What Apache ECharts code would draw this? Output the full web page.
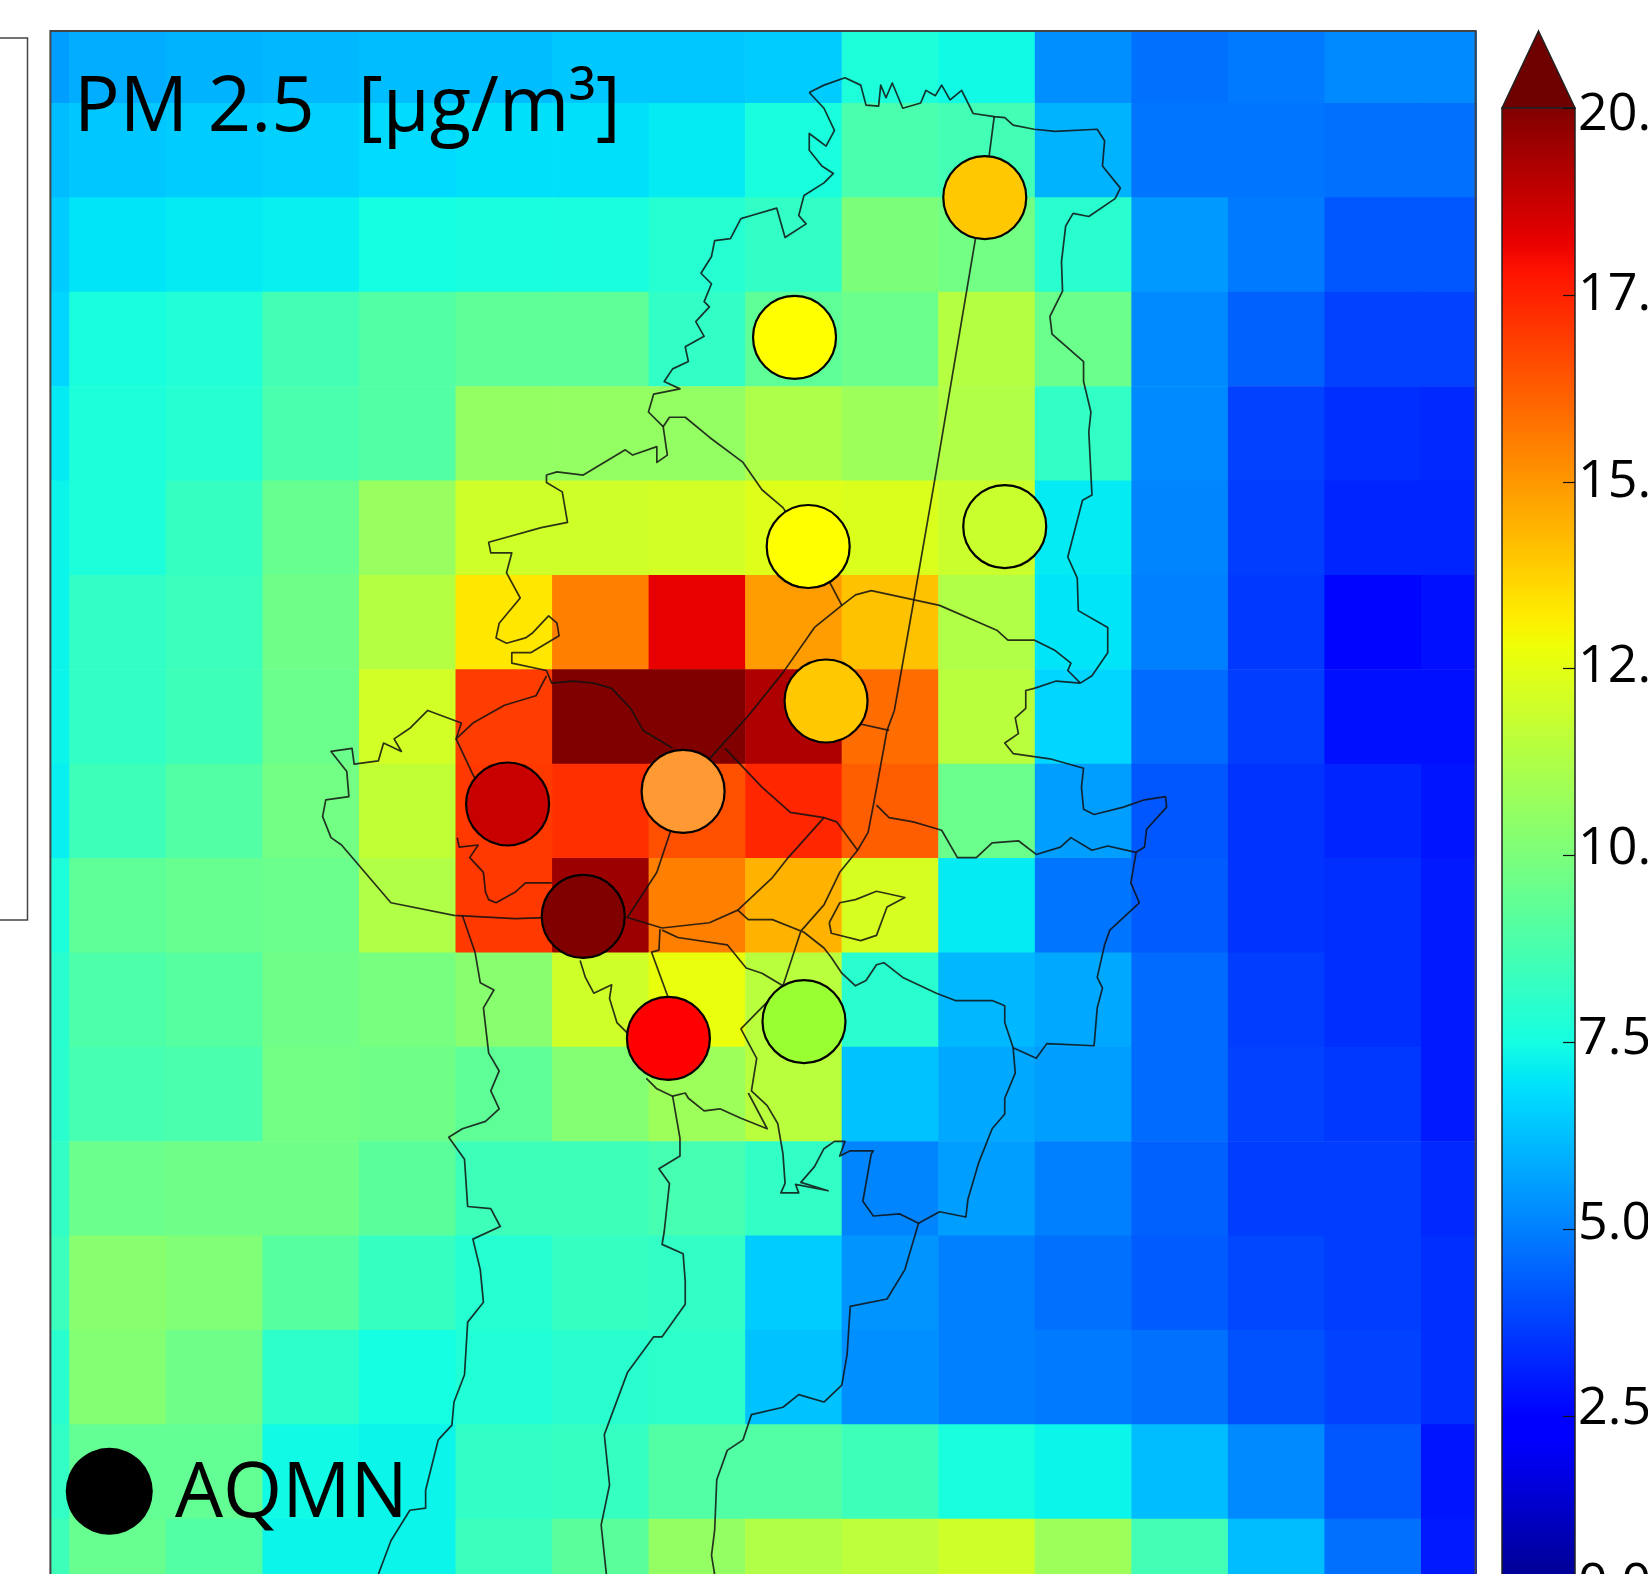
<!DOCTYPE html>
<html><head><meta charset="utf-8">
<style>html,body{margin:0;padding:0;background:#fff}#c{width:1648px;height:1574px}</style>
<script src="https://cdn.jsdelivr.net/npm/echarts@6/dist/echarts.min.js"></script>
</head><body><div id="c"></div>
<script>
// PM 2.5 per model cell, top row first, west to east
const row00=[5.6,5.9,6.0,6.1,6.2,6.2,6.4,6.4,6.5,7.7,7.4,5.3,4.7,4.9,5.2,5.2];
const row01=[6.2,6.4,6.5,6.6,6.8,6.9,6.9,7.1,7.6,8.8,8.6,6.0,4.8,4.8,4.7,4.7];
const row02=[6.5,7.0,7.1,7.2,7.5,7.6,7.6,7.9,8.2,10.0,9.8,8.0,5.5,4.9,4.2,4.2];
const row03=[6.7,7.6,7.8,8.6,9.0,9.3,9.3,8.2,9.3,9.6,11.4,9.6,5.2,4.4,3.8,3.8];
const row04=[7.1,7.7,7.9,8.8,9.0,10.6,10.6,10.6,11.2,10.8,11.3,8.2,5.2,3.8,3.4,3.3];
const row05=[7.3,7.7,8.3,9.5,10.7,12.0,12.0,12.1,12.4,12.3,11.9,7.1,5.1,3.7,3.2,3.2];
const row06=[7.3,8.2,8.4,9.7,11.4,13.3,15.5,18.2,14.9,14.1,11.3,7.0,5.0,3.6,2.6,2.8];
const row07=[7.3,8.2,8.5,9.6,12.1,16.9,20.0,20.0,19.2,15.9,11.5,6.7,4.6,3.7,2.8,2.8];
const row08=[7.2,8.5,9.0,9.8,11.7,17.0,17.2,16.5,17.4,16.2,9.6,5.6,4.2,3.5,3.2,2.9];
const row09=[7.7,9.3,9.5,9.6,11.3,17.0,19.5,15.5,14.4,12.2,7.1,4.8,4.3,3.5,3.4,3.0];
const row10=[8.0,8.9,9.1,9.7,9.9,10.3,12.0,12.7,11.5,8.0,6.1,5.8,4.6,3.7,3.4,3.0];
const row11=[8.0,8.7,8.8,9.8,9.7,9.3,10.2,10.8,11.5,6.3,5.8,5.6,4.6,3.8,3.6,3.0];
const row12=[8.2,9.6,9.7,9.7,9.2,8.5,8.5,8.7,8.2,5.1,5.6,5.0,4.4,3.7,3.7,3.3];
const row13=[8.4,10.3,10.1,9.1,8.3,7.9,8.3,8.2,6.5,5.4,5.0,4.7,4.3,3.9,3.7,3.4];
const row14=[8.0,10.2,9.7,8.1,7.5,7.8,8.0,8.1,6.3,5.3,5.0,4.9,4.7,4.1,3.8,3.4];
const row15=[8.2,9.4,9.4,7.4,7.3,8.2,8.3,9.0,9.0,8.5,7.6,7.3,6.2,5.2,4.2,2.9];
const row16=[8.5,9.5,9.0,7.3,7.3,8.4,9.2,10.6,11.3,11.6,12.0,10.8,8.6,6.2,4.7,3.0];
const rows=[row00,row01,row02,row03,row04,row05,row06,row07,row08,row09,row10,row11,row12,row13,row14,row15,row16];

// Monitoring stations (AQMN), in map units
const stationX=[937,756,769,956,786,483,650,555,636,765];
const stationY=[188,321,520,501,667,765,753,872,988,972];
const stationColors=['#ffc800','#ffff00','#ffff00','#c8ff2d','#ffc800','#c80000','#ff9933','#800000','#ff0000','#99ff33'];
const legendDot=[104,1419];

// Colour bar
const barTickValues=[0,2.5,5,7.5,10,12.5,15,17.5,20];
const barLabelNudge=[-18,-7,-5,-3,-6,-1,0,0,7];
const arrowTip=21.03;

// Map outlines, in map units
const coastNorthWest=[[770,88],[784,103],[794,124],[786,139],[770,127],[770,143],[782,158],[793,165],[784,174],[765,186],[760,205],[767,213],[747,226],[739,198],[715,205],[705,208],[695,227],[680,229],[677,244],[667,260],[677,270],[670,287],[675,292],[662,306],[670,320],[652,330],[655,344],[640,351],[632,363],[647,370],[622,375],[617,392],[631,406],[635,433],[625,440],[625,425],[602,433],[595,428],[555,452],[530,449],[520,452],[520,459],[535,468],[540,497],[515,502],[465,516],[467,526],[487,526],[482,545],[495,569],[475,593],[472,607],[482,612],[500,607],[507,602],[522,586],[530,593],[532,605],[505,621],[487,621],[487,631],[520,638],[525,650],[545,648],[565,650],[582,655],[600,674],[612,695],[640,712]];
const coastNorthEast=[[770,88],[784,81],[804,74],[819,81],[824,100],[836,101],[838,81],[843,93],[849,79],[859,103],[876,98],[881,86],[890,91],[896,81],[904,95],[915,86],[926,108],[946,111],[956,112],[964,119],[984,123],[1004,125],[1044,123],[1051,134],[1049,158],[1066,179],[1061,189],[1036,206],[1021,203],[1014,215],[1010,249],[1011,277],[999,301],[1001,318],[1031,344],[1031,363],[1038,392],[1036,411],[1039,471],[1030,476],[1016,530],[1025,550],[1026,581],[1054,597],[1054,621],[1039,643],[1028,650]];
const ridgeNorth=[[631,406],[637,397],[652,397],[675,416],[707,440],[725,466],[745,483],[769,520],[791,557],[801,576]];
const provinceMiddle=[[675,722],[712,681],[745,640],[775,597],[801,576],[814,566],[829,562],[894,576],[949,600],[959,609],[984,609],[1004,619],[1019,631],[1016,638],[1028,650]];
const provinceEast=[[1028,650],[1005,648],[984,655],[976,657],[976,674],[966,683],[969,698],[956,707],[964,717],[999,722],[1031,731],[1029,749],[1031,770],[1041,775],[1069,768],[1089,761],[1109,758],[1110,768],[1091,789],[1089,806],[1081,811],[1054,805],[1039,809],[1019,797],[1009,806],[986,813],[969,800],[944,802],[929,816],[911,816],[896,790],[869,782],[846,778],[834,766]];
const diagonal=[[946,111],[936,188],[928,228],[889,459],[869,574],[851,676],[844,695],[834,750],[831,766],[826,792],[816,809],[799,830],[784,861],[762,886],[745,938],[705,979],[720,1007],[715,1038],[730,1052],[740,1069],[745,1098],[747,1126],[743,1135],[760,1135],[757,1127],[788,1133],[762,1125],[775,1110],[784,1093],[794,1086],[804,1086],[799,1100],[809,1095],[831,1095],[829,1098],[821,1143],[831,1157],[856,1155],[874,1164],[894,1153],[919,1158],[921,1141],[931,1107],[944,1074],[956,1060],[956,1045],[966,1021],[964,997],[956,973],[956,957],[944,952],[909,952],[891,945],[859,930],[841,916],[834,918],[824,933],[814,938],[801,926],[791,911],[784,902],[765,887],[735,875],[712,875],[702,866]];
const spurNorthEast=[[846,695],[810,687]];
const provinceSouthEast=[[964,997],[986,1007],[996,993],[1041,995],[1044,959],[1049,940],[1044,930],[1051,899],[1056,885],[1084,859],[1076,840],[1081,811]];
const valleyEast=[[874,1164],[861,1208],[844,1236],[809,1243],[806,1289],[801,1318],[784,1334],[760,1327],[745,1339],[715,1346],[707,1370],[692,1380],[682,1408],[680,1456],[677,1480],[680,1498],[678,1530]];
const lakeLoop=[[789,878],[799,859],[814,856],[834,848],[861,854],[844,863],[834,890],[819,895],[791,888],[789,878]];
const westCoast=[[520,643],[510,662],[480,671],[450,688],[434,703],[439,688],[407,676],[390,693],[375,703],[382,715],[365,707],[360,724],[337,727],[335,712],[315,715],[330,734],[332,758],[310,761],[307,777],[315,797],[325,804],[372,859],[432,871],[490,874],[555,872]];
const westLink=[[434,703],[450,737],[465,765]];
const bayCoast=[[435,797],[437,806],[455,804],[447,816],[460,830],[462,849],[465,856],[472,859],[490,849],[500,840],[525,840]];
const valleyWest=[[440,871],[452,906],[457,935],[470,942],[460,959],[465,1002],[475,1019],[467,1038],[475,1055],[462,1067],[440,1074],[427,1082],[442,1103],[445,1148],[467,1150],[476,1167],[450,1179],[457,1208],[460,1239],[445,1258],[442,1308],[432,1334],[430,1356],[417,1370],[405,1418],[405,1435],[390,1437],[372,1466],[360,1498],[345,1530]];
const cityArc=[[650,753],[637,794],[625,830],[597,873],[630,883],[675,878],[702,866],[735,835],[750,816],[784,778],[796,782],[816,809]];
const cityInner=[[690,712],[725,749],[752,773],[784,778]];
const cityStem=[[628,884],[627,904],[620,906],[635,947],[636,988]];
const citySouth=[[630,885],[645,892],[692,899],[710,921],[725,926],[745,938]];
const coastSouth=[[552,914],[557,930],[565,945],[582,937],[580,950],[587,973],[597,983],[636,988]];
const gulfSouth=[[615,1026],[625,1036],[640,1043],[652,1040],[655,1045],[670,1057],[685,1055],[705,1064],[730,1074],[712,1040]];
const valleyMiddle=[[640,1043],[647,1083],[647,1100],[627,1112],[637,1126],[632,1172],[630,1184],[650,1193],[652,1219],[652,1241],[630,1272],[622,1272],[597,1306],[575,1365],[580,1413],[572,1451],[577,1498],[580,1530]];
const outlines=[coastNorthWest,coastNorthEast,ridgeNorth,provinceMiddle,provinceEast,diagonal,spurNorthEast,provinceSouthEast,valleyEast,lakeLoop,westCoast,westLink,bayCoast,valleyWest,cityArc,cityInner,cityStem,citySouth,coastSouth,gulfSouth,valleyMiddle];

// Map extent and cell layout (map units)
const mapX=[48,1404], mapY=[29.5,1530];
const colStart=66, colW=91.86, rowStart=98, rowH=89.8;

function lerp(t,pts){for(let i=1;i<pts.length;i++){if(t<=pts[i][0]){const a=pts[i-1],b=pts[i];return a[1]+(b[1]-a[1])*(t-a[0])/(b[0]-a[0]);}}return pts[pts.length-1][1];}
function jet(v){const t=Math.max(0,Math.min(1,v/20));
 const r=lerp(t,[[0,0],[.35,0],[.66,1],[.89,1],[1,.5]]),g=lerp(t,[[0,0],[.125,0],[.375,1],[.64,1],[.91,0],[1,0]]),b=lerp(t,[[0,.5],[.11,1],[.34,1],[.65,0],[1,0]]);
 return 'rgb('+Math.round(r*255)+','+Math.round(g*255)+','+Math.round(b*255)+')';}

const cells=[];rows.forEach((r,j)=>r.forEach((v,i)=>cells.push([i,j,v])));
const stops=[0,.11,.125,.34,.35,.375,.5,.64,.65,.66,.75,.89,.91,1];
const barStops=stops.map(t=>({offset:1-t,color:jet(t*20)})).reverse();
const titleFont={fontFamily:'Open Sans',fontSize:76,fontWeight:'normal',color:'#000'};
const labelFont={fontFamily:'Open Sans',fontSize:52,color:'#000'};
const richLabels={};
barTickValues.forEach((v,i)=>{const n=barLabelNudge[i];
 richLabels['t'+i]={...labelFont,padding:n>0?[2*n,0,0,0]:[0,0,-2*n,0]};});

const chart=echarts.init(document.getElementById('c'),null,{renderer:'canvas'});
chart.setOption({
 animation:false,backgroundColor:'#fff',
 title:[
  {text:'PM 2.5',left:74,top:71,padding:0,textStyle:titleFont},
  {text:'[µg/m³]',left:358,top:71,padding:0,textStyle:titleFont},
  {text:'AQMN',left:175,top:1457,padding:0,textStyle:titleFont}
 ],
 grid:[
  {left:50.4,top:31,width:1425.2,height:1577,show:true,borderColor:'#444',borderWidth:2,backgroundColor:'transparent',outerBoundsMode:'none',z:5},
  {left:1502,top:108,width:73,height:1495,outerBoundsMode:'none'},
  {left:-100,top:38,width:127.5,height:882,show:true,borderColor:'#444',borderWidth:1.5,outerBoundsMode:'none'}
 ],
 xAxis:[
  {gridIndex:0,type:'value',min:mapX[0],max:mapX[1],show:false},
  {gridIndex:1,type:'value',min:0,max:1,show:false},
  {gridIndex:2,type:'value',min:0,max:1,show:false}
 ],
 yAxis:[
  {gridIndex:0,type:'value',min:mapY[0],max:mapY[1],inverse:true,show:false},
  {gridIndex:1,type:'value',min:0,max:20,interval:2.5,position:'right',
   axisLine:{show:false,onZero:false},splitLine:{show:false},
   axisTick:{show:true,inside:true,length:12,lineStyle:{color:'#111',width:1.2}},
   axisLabel:{show:true,margin:3,...labelFont,rich:richLabels,showMinLabel:true,showMaxLabel:true,hideOverlap:false,
     formatter:v=>'{t'+barTickValues.indexOf(v)+'|'+v.toFixed(1)+'}'},z:10},
  {gridIndex:2,type:'value',min:0,max:1,show:false}
 ],
 series:[
  {type:'custom',coordinateSystem:'cartesian2d',xAxisIndex:0,yAxisIndex:0,clip:true,silent:true,z:1,data:cells,
   renderItem:(p,api)=>{const i=api.value(0),j=api.value(1);
    const a=api.coord([colStart+(i-1)*colW,rowStart+(j-1)*rowH]),b=api.coord([colStart+i*colW,rowStart+j*rowH]);
    return {type:'rect',shape:{x:a[0],y:a[1],width:b[0]-a[0]+.6,height:b[1]-a[1]+.6},style:{fill:jet(api.value(2))}};}},
  {type:'lines',coordinateSystem:'cartesian2d',xAxisIndex:0,yAxisIndex:0,polyline:true,silent:true,z:2,clip:true,
   lineStyle:{color:'#111',width:1.7,opacity:.85,join:'round'},
   data:outlines.map(c=>({coords:c}))},
  {type:'scatter',xAxisIndex:0,yAxisIndex:0,z:3,silent:true,symbol:'circle',symbolSize:83,
   data:stationX.map((x,i)=>({value:[x,stationY[i]],itemStyle:{color:stationColors[i],borderColor:'#000',borderWidth:2.2,opacity:1}}))},
  {type:'scatter',xAxisIndex:0,yAxisIndex:0,z:3,silent:true,symbol:'circle',symbolSize:87,
   data:[{value:legendDot,itemStyle:{color:'#000',opacity:1}}]},
  {type:'custom',coordinateSystem:'cartesian2d',xAxisIndex:1,yAxisIndex:1,clip:false,silent:true,z:4,data:[[0,20,arrowTip]],
   renderItem:(p,api)=>{const l=api.coord([0,api.value(1)]),r=api.coord([1,api.value(0)]),m=api.coord([.5,api.value(2)]);
    const stroke={stroke:'#222',lineWidth:1.5};
    return {type:'group',children:[
     {type:'polygon',shape:{points:[[l[0],l[1]],[m[0],m[1]],[r[0],l[1]]]},style:{fill:'#6e0000',...stroke}},
     {type:'rect',shape:{x:l[0],y:l[1],width:r[0]-l[0],height:r[1]-l[1]},style:{fill:new echarts.graphic.LinearGradient(0,0,0,1,barStops),...stroke}}
    ]};}}
 ]
});
</script></body></html>
